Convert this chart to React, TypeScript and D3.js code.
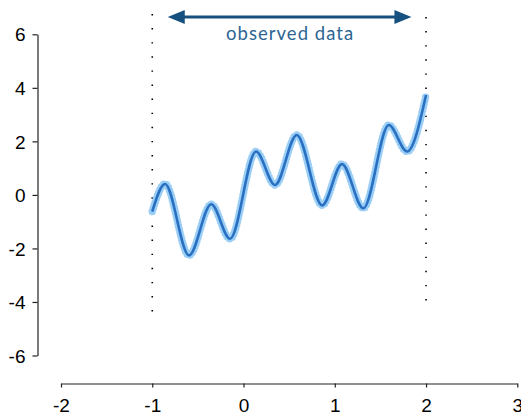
import React, { useEffect, useRef } from "react";
import * as d3 from "d3";

// Observed curve (start, extrema, end)
const obsX = [-1.0, -0.86, -0.597, -0.354, -0.148, 0.137, 0.345, 0.583, 0.862, 1.079, 1.313, 1.592, 1.792, 2.0];
const obsY = [-0.62, 0.41, -2.26, -0.35, -1.64, 1.62, 0.37, 2.24, -0.39, 1.15, -0.5, 2.61, 1.62, 3.73];

const xTicks = [-2, -1, 0, 1, 2, 3];
const yTicks = [-6, -4, -2, 0, 2, 4, 6];
const boundsX = [-1, 2];
const arrowX = [-0.83, 1.84];
const arrowY = 6.65;
const label = "observed data";

const W = 521;
const H = 416;

export default function App() {
  const xAxisRef = useRef<SVGGElement>(null);
  const yAxisRef = useRef<SVGGElement>(null);

  const x = d3.scaleLinear().domain([-2, 3]).range([61, 517.3]);
  const y = d3.scaleLinear().domain([-6, 6]).range([355.5, 34.3]);

  useEffect(() => {
    const xa = d3.axisBottom(x).tickValues(xTicks).tickSize(4).tickSizeOuter(0).tickFormat(d3.format("d") as any);
    const ya = d3.axisLeft(y).tickValues(yTicks).tickSize(5).tickSizeOuter(0).tickFormat(d3.format("d") as any);
    const gx = d3.select(xAxisRef.current!).call(xa as any);
    const gy = d3.select(yAxisRef.current!).call(ya as any);
    for (const g of [gx, gy]) {
      g.selectAll("text")
        .attr("font-family", "'Liberation Sans', Arial, Helvetica, sans-serif")
        .attr("font-size", 19)
        .attr("fill", "#000")
        .text((d: any) => (d < 0 ? "-" + Math.abs(d) : String(d)));
      g.selectAll("path").attr("stroke", "#222").attr("stroke-width", 1.2);
      g.selectAll("line").attr("stroke", "#222").attr("stroke-width", 1.2);
    }
    gx.selectAll("text").attr("dy", null).attr("y", 28.8);
    gy.selectAll("text").attr("x", -12).attr("dy", "0.35em");
  }, []);

  const pts: [number, number][] = obsX.map((v, i) => [x(v), y(obsY[i])]);
  const line = d3.line().curve(d3.curveMonotoneX)(pts) || "";

  const ay = y(arrowY);
  const ax0 = x(arrowX[0]);
  const ax1 = x(arrowX[1]);
  const ahL = 17;
  const ahW = 7;
  const arrowColor = "#15507f";

  return (
    <svg width={W} height={H} style={{ position: "absolute", left: 0, top: 0, background: "#fff" }}>
      <rect width={W} height={H} fill="#fff" />
      {boundsX.map((b) => (
        <line
          key={b}
          x1={x(b)}
          x2={x(b)}
          y1={b < 0 ? 14 : 17}
          y2={313}
          stroke="#000"
          strokeWidth={1.6}
          strokeDasharray="1.4 12.7"
        />
      ))}
      <path d={line} fill="none" stroke="#96cbf4" strokeWidth={7.5} strokeLinecap="round" strokeDasharray="0 3.3" opacity={0.95} />
      <path d={line} fill="none" stroke="#2a70c2" strokeWidth={2.6} />
      <line x1={ax0 + ahL - 2} x2={ax1 - ahL + 2} y1={ay} y2={ay} stroke={arrowColor} strokeWidth={3} />
      <polygon points={`${ax0},${ay} ${ax0 + ahL},${ay - ahW} ${ax0 + ahL},${ay + ahW}`} fill={arrowColor} />
      <polygon points={`${ax1},${ay} ${ax1 - ahL},${ay - ahW} ${ax1 - ahL},${ay + ahW}`} fill={arrowColor} />
      <text
        x={(ax0 + ax1) / 2}
        y={40}
        textAnchor="middle"
        fontFamily="Lato, 'Open Sans', sans-serif"
        fontSize={18.5}
        fill="#2d6594"
        textLength={127}
        lengthAdjust="spacing"
      >
        {label}
      </text>
      <g ref={xAxisRef} transform={`translate(0,383.5)`} />
      <g ref={yAxisRef} transform={`translate(37.5,0)`} />
    </svg>
  );
}
